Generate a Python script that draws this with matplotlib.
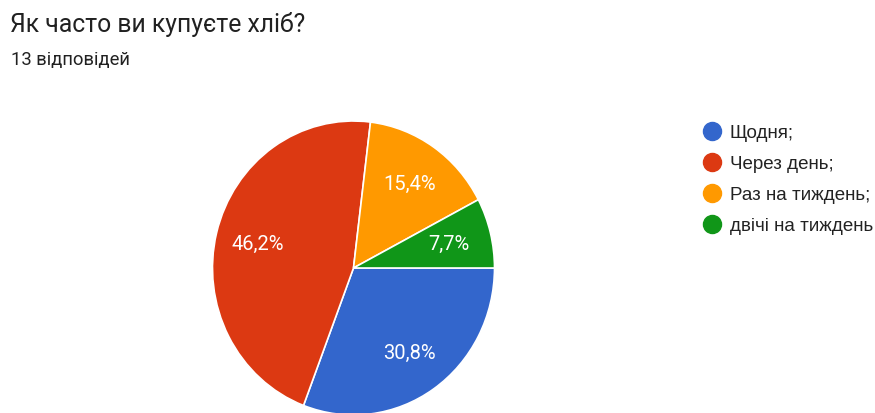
import matplotlib
matplotlib.use("Agg")
import matplotlib.pyplot as plt
from matplotlib.lines import Line2D

title = "Як часто ви купуєте хліб?"
subtitle = "13 відповідей"
categories = ["Щодня;", "Через день;", "Раз на тиждень;", "двічі на тиждень"]
counts = [4, 6, 2, 1]
pct_labels = ["30,8%", "46,2%", "15,4%", "7,7%"]
colors = ["#3366cc", "#dc3912", "#ff9900", "#109618"]

plt.rcParams['font.family'] = ['Roboto', 'DejaVu Sans']

W, H = 875, 414
fig = plt.figure(figsize=(W / 100, H / 100), dpi=100)
fig.patch.set_facecolor("white")

# pie axes (pixel geometry)
cx, cy, rx, ry = 353.5, 269, 141, 147
ax = fig.add_axes([(cx - rx) / W, (H - cy - ry) / H, 2 * rx / W, 2 * ry / H])
wedges, texts = ax.pie(counts, colors=colors, startangle=0, counterclock=False,
                       labels=pct_labels, labeldistance=0.7,
                       wedgeprops=dict(edgecolor="white", linewidth=1.2),
                       textprops=dict(color="white", fontsize=14.5),
                       radius=1.0)
for t in texts:
    t.set_horizontalalignment("center")
    t.set_verticalalignment("center")
ax.set_aspect("auto")
ax.set_xlim(-1, 1)
ax.set_ylim(-1, 1)
ax.axis("off")

fig.text(10 / W, 1 - 31.7 / H, title, fontsize=17.8, color="#212121", ha="left", va="baseline")
fig.text(11 / W, 1 - 65 / H, subtitle, fontsize=13.2, color="#212121", ha="left", va="baseline")

handles = [Line2D([], [], linestyle="none", marker="o", markersize=13,
                  markerfacecolor=c, markeredgecolor=c) for c in colors]
fig.legend(handles, categories, loc="center left",
           bbox_to_anchor=(702.6 / W, 1 - 180 / H), frameon=False,
           prop=dict(family=["Liberation Sans", "DejaVu Sans"], size=13.5),
           handlelength=1.0, handletextpad=0.46,
           labelspacing=0.74, borderpad=0, borderaxespad=0,
           labelcolor="#222222")

fig.savefig("out.png", dpi=100, facecolor="white")
